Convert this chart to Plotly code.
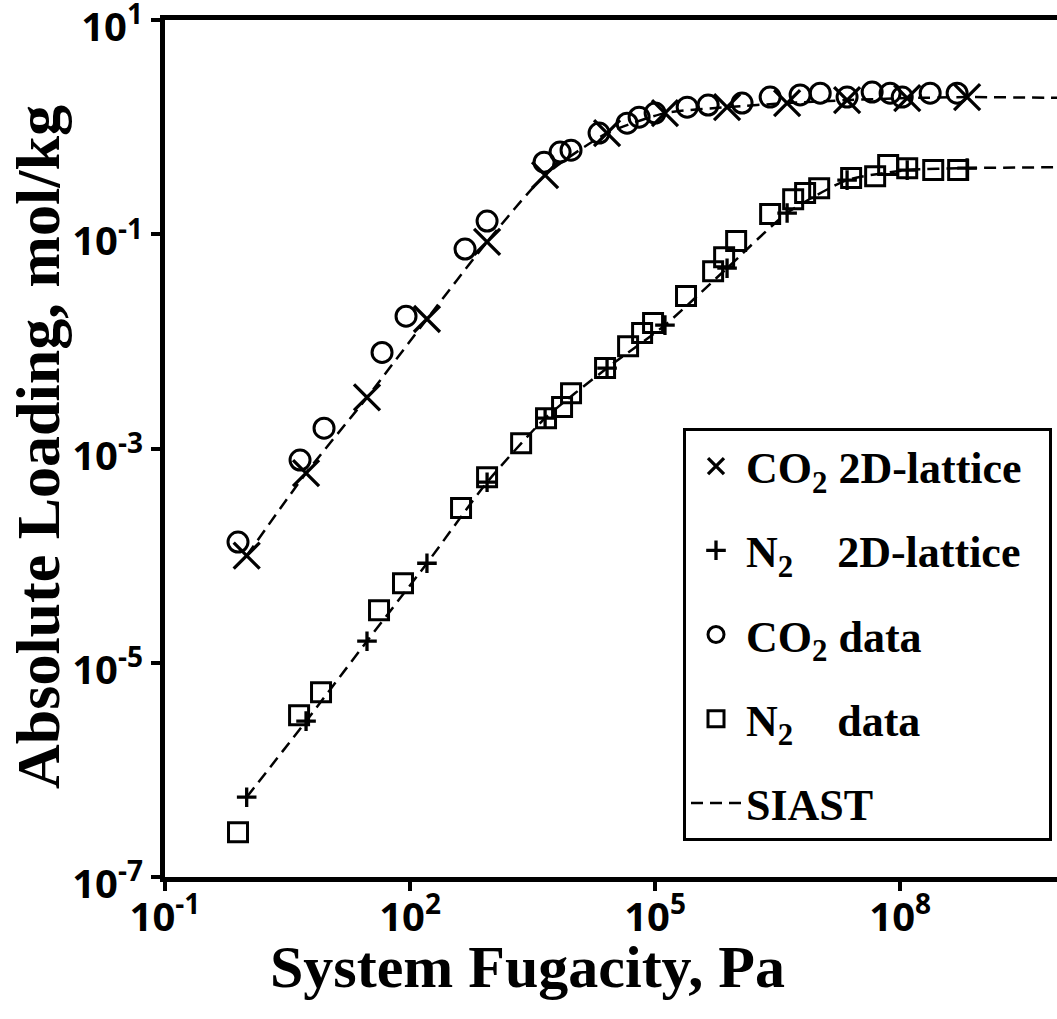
import plotly.graph_objects as go

# ---- data ----
lattice_pressure = [1.0, 5.33, 29.7, 161, 877, 4500, 25800, 1.32e5, 7.6e5, 4.13e6, 2.24e7, 1.22e8, 6.6e8]
co2_lattice = [1.0e-4, 5.9e-4, 3.0e-3, 0.0162, 0.085, 0.357, 0.88, 1.355, 1.54, 1.68, 1.79, 1.87, 1.91]
n2_lattice = [5.56e-7, 2.85e-6, 1.59e-5, 8.5e-5, 4.85e-4, 1.92e-3, 5.64e-3, 0.0142, 0.0483, 0.158, 0.321, 0.398, 0.415]

co2_data_pressure = [0.783, 4.50, 8.85, 45.4, 89.3, 471, 877, 4375, 6870, 9350, 20600, 45400, 63700,
                     1.0e5, 2.47e5, 4.46e5, 1.16e6, 2.56e6, 5.96e6, 1.05e7, 2.24e7, 4.54e7, 7.53e7,
                     1.06e8, 2.33e8, 4.98e8]
co2_data = [1.34e-4, 7.8e-4, 1.55e-3, 7.9e-3, 0.0172, 0.0728, 0.133, 0.472, 0.586, 0.611, 0.881, 1.09, 1.24,
            1.355, 1.54, 1.61, 1.68, 1.91, 2.0, 2.08, 1.91, 2.13, 2.08, 1.91, 2.08, 2.08]

n2_data_pressure = [0.783, 4.38, 8.13, 41.7, 82.0, 421, 877, 2290, 4620, 7260, 9350, 24400, 46700, 69300,
                    94400, 2.39e5, 5.13e5, 7.0e5, 9.82e5, 2.56e6, 4.9e6, 6.86e6, 1.02e7, 2.51e7, 4.94e7,
                    7.13e7, 1.22e8, 2.54e8, 5.13e8]
n2_data = [2.62e-7, 3.24e-6, 5.31e-6, 3.10e-5, 5.53e-5, 2.78e-4, 5.41e-4, 1.12e-3, 1.92e-3, 2.44e-3, 3.29e-3,
           5.64e-3, 9.04e-3, 0.01197, 0.01483, 0.0265, 0.0453, 0.0612, 0.0865, 0.1545, 0.213, 0.243, 0.27,
           0.335, 0.349, 0.443, 0.415, 0.398, 0.398]

siast_pressure = lattice_pressure + [1.0e10]
co2_siast = co2_lattice + [1.88]
n2_siast = n2_lattice + [0.424]

x_tick_values = [0.1, 100, 1e5, 1e8]
x_tick_labels = ["10<sup>-1</sup>", "10<sup>2</sup>", "10<sup>5</sup>", "10<sup>8</sup>"]
y_tick_values = [1e-7, 1e-5, 1e-3, 1e-1, 10]
y_tick_labels = ["10<sup>-7</sup>", "10<sup>-5</sup>", "10<sup>-3</sup>", "10<sup>-1</sup>", "10<sup>1</sup>"]

SERIF = "Liberation Serif"
SANS = "Open Sans"
BLACK = "black"
NB = "\u00a0"

fig = go.Figure()

# markers first (legend order), dashed SIAST curves drawn on top as in the reference
fig.add_trace(go.Scatter(x=lattice_pressure, y=co2_lattice, mode="markers",
                         name="CO<sub>2</sub> 2D-lattice" + NB * 2, legendgroup="g1",
                         marker=dict(symbol="x-thin-open", size=26, color=BLACK, line=dict(width=3.3, color=BLACK))))
fig.add_trace(go.Scatter(x=lattice_pressure, y=n2_lattice, mode="markers",
                         name="N<sub>2</sub>" + NB * 4 + "2D-lattice" + NB * 2, legendgroup="g2",
                         marker=dict(symbol="cross-thin-open", size=14, color=BLACK, line=dict(width=3.3, color=BLACK))))
fig.add_trace(go.Scatter(x=co2_data_pressure, y=co2_data, mode="markers",
                         name="CO<sub>2</sub> data", legendgroup="g3",
                         marker=dict(symbol="circle-open", size=20, color=BLACK, line=dict(width=3, color=BLACK))))
fig.add_trace(go.Scatter(x=n2_data_pressure, y=n2_data, mode="markers",
                         name="N<sub>2</sub>" + NB * 4 + "data", legendgroup="g4",
                         marker=dict(symbol="square-open", size=19, color=BLACK, line=dict(width=3, color=BLACK))))

dash_style = "12px,7px"
fig.add_trace(go.Scatter(x=siast_pressure, y=co2_siast, mode="lines", name="SIAST",
                         line=dict(color=BLACK, width=2.5, dash=dash_style, shape="spline", smoothing=0.6),
                         legendgroup="g5", showlegend=True))
fig.add_trace(go.Scatter(x=siast_pressure, y=n2_siast, mode="lines", name="SIAST",
                         line=dict(color=BLACK, width=2.5, dash=dash_style, shape="spline", smoothing=0.6),
                         legendgroup="g5", showlegend=False))

tick_font = dict(family=SANS, size=40, color=BLACK, weight=700)

fig.update_xaxes(type="log", range=[-1, 9.92], tickvals=x_tick_values, ticktext=x_tick_labels,
                 ticks="outside", ticklen=9, tickwidth=4, tickcolor=BLACK,
                 showline=True, linewidth=5, linecolor=BLACK, mirror=True,
                 showgrid=False, zeroline=False, tickfont=tick_font, automargin=False,
                 ticklabeloverflow="allow", ticklabelstandoff=-8)
fig.update_yaxes(type="log", range=[-7, 1.001], tickvals=y_tick_values, ticktext=y_tick_labels,
                 ticks="outside", ticklen=9, tickwidth=4, tickcolor=BLACK,
                 showline=True, linewidth=5, linecolor=BLACK, mirror=False,
                 showgrid=False, zeroline=False, tickfont=tick_font, automargin=False,
                 ticklabeloverflow="allow", ticklabelstandoff=0, ticklabelshift=7)

W, H = 1057, 1019
L, R, T, B = 165, 0, 20, 142
pw, ph = W - L - R, H - T - B

def px_x(px):
    return (px - L) / pw

def px_y(py):
    return (H - B - py) / ph

fig.update_layout(
    width=W, height=H,
    margin=dict(l=L, r=R, t=T, b=B, autoexpand=False),
    plot_bgcolor="white", paper_bgcolor="white",
    legend=dict(x=px_x(683), y=px_y(428), xanchor="left", yanchor="top",
                bordercolor=BLACK, borderwidth=3, bgcolor="white",
                font=dict(family=SERIF, size=44, color=BLACK, weight="bold"),
                traceorder="grouped", tracegroupgap=24, itemwidth=50),
    annotations=[
        dict(text="System Fugacity, Pa", x=px_x(527), y=px_y(967), xref="paper", yref="paper",
             xanchor="center", yanchor="middle", showarrow=False,
             font=dict(family=SERIF, size=60, color=BLACK, weight="bold")),
        dict(text="Absolute Loading, mol/kg", x=px_x(38), y=px_y(447), xref="paper", yref="paper",
             xanchor="center", yanchor="middle", showarrow=False, textangle=-90,
             font=dict(family=SERIF, size=62, color=BLACK, weight="bold")),
    ],
)

fig.write_html("out.html")
